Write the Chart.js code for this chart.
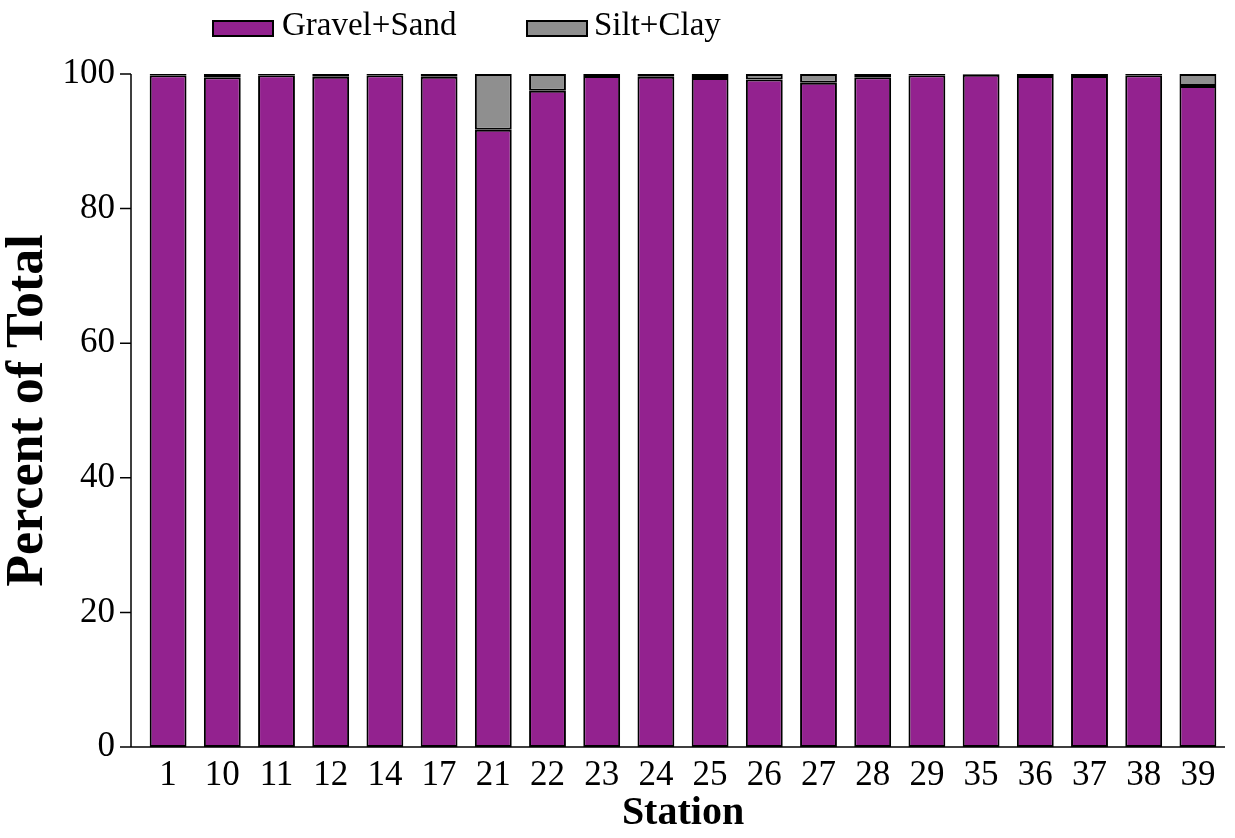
<!DOCTYPE html>
<html>
<head>
<meta charset="utf-8">
<script src="https://cdn.jsdelivr.net/npm/chart.js@4/dist/chart.umd.min.js"></script>
<style>
html,body{margin:0;padding:0;background:#fff;}
#wrap{width:1235px;height:838px;position:relative;}
</style>
</head>
<body>
<div id="wrap"><canvas id="c" width="1235" height="838"></canvas></div>
<script>
const stations = ["1","10","11","12","14","17","21","22","23","24","25","26","27","28","29","35","36","37","38","39"];
const gravelSand = [99.8, 99.5, 99.8, 99.6, 99.8, 99.6, 91.7, 97.5, 99.7, 99.6, 99.4, 99.2, 98.7, 99.5, 99.8, 99.9, 99.7, 99.7, 99.8, 98.2];
const siltClay   = [0.2, 0.5, 0.2, 0.4, 0.2, 0.4, 8.3, 2.5, 0.3, 0.4, 0.6, 0.8, 1.3, 0.5, 0.2, 0.1, 0.3, 0.3, 0.2, 1.8];
const yTicks = [0, 20, 40, 60, 80, 100];
const seriesNames = ["Gravel+Sand", "Silt+Clay"];

const FONT = "'Liberation Serif', 'Times New Roman', serif";
const AXIS_GAP = 10;

const axisPlugin = {
  id: 'axisPlugin',
  afterDraw(chart) {
    const ctx = chart.ctx;
    const a = chart.chartArea;
    const y = chart.scales.y;
    const ax = a.left - AXIS_GAP;
    ctx.save();
    ctx.strokeStyle = '#000';
    ctx.lineWidth = 1.5;
    ctx.beginPath();
    ctx.moveTo(ax, y.getPixelForValue(100));
    ctx.lineTo(ax, a.bottom);
    ctx.lineTo(a.right, a.bottom);
    yTicks.forEach(v => {
      const py = y.getPixelForValue(v);
      ctx.moveTo(ax - 11, py);
      ctx.lineTo(ax, py);
    });
    ctx.stroke();
    // legend
    const pos = [[213, 21, 282], [527, 21, 594]];
    ctx.font = "33px " + FONT;
    ctx.textBaseline = 'middle';
    ctx.textAlign = 'left';
    chart.data.datasets.forEach((ds, i) => {
      const [bx, by, tx] = pos[i];
      ctx.fillStyle = ds.backgroundColor;
      ctx.fillRect(bx, by, 60, 15);
      ctx.lineWidth = 2;
      ctx.strokeStyle = '#000';
      ctx.strokeRect(bx, by, 60, 15);
      ctx.fillStyle = '#000';
      ctx.fillText(ds.label, tx, 26);
    });
    ctx.restore();
  }
};

new Chart(document.getElementById('c'), {
  type: 'bar',
  data: {
    labels: stations,
    datasets: [
      { label: seriesNames[0], data: gravelSand, backgroundColor: '#93228F', borderColor: '#000', borderWidth: 2, borderSkipped: false, barPercentage: 0.68, categoryPercentage: 1 },
      { label: seriesNames[1], data: siltClay, backgroundColor: '#8F8F8F', borderColor: '#000', borderWidth: 2, borderSkipped: false, barPercentage: 0.68, categoryPercentage: 1 }
    ]
  },
  options: {
    responsive: false,
    animation: false,
    devicePixelRatio: 1,
    layout: { padding: { top: 74, right: 10, left: 0, bottom: 0 } },
    plugins: { legend: { display: false }, tooltip: { enabled: false } },
    scales: {
      x: {
        stacked: true,
        grid: { display: false, drawTicks: false },
        border: { display: false },
        ticks: { color: '#000', font: { family: FONT, size: 35, lineHeight: 1.2 }, padding: 8, maxRotation: 0, autoSkip: false },
        title: { display: true, text: 'Station', color: '#000', font: { family: FONT, size: 40, weight: 'bold', lineHeight: 1.2 }, padding: { top: 0, bottom: 0 } },
        afterFit(s) { s.height = 91; }
      },
      y: {
        stacked: true,
        min: 0, max: 100,
        afterBuildTicks(s) { s.ticks = yTicks.map(v => ({ value: v })); },
        grid: { display: false, drawTicks: false },
        border: { display: false },
        ticks: { color: '#000', font: { family: FONT, size: 35 }, padding: 26 },
        title: { display: true, text: 'Percent of Total', color: '#000', font: { family: FONT, size: 52, weight: 'bold', lineHeight: 1.1 }, padding: { top: 0, bottom: 0 } },
        afterFit(s) { s.width = 141; }
      }
    }
  },
  plugins: [axisPlugin]
});
</script>
</body>
</html>
